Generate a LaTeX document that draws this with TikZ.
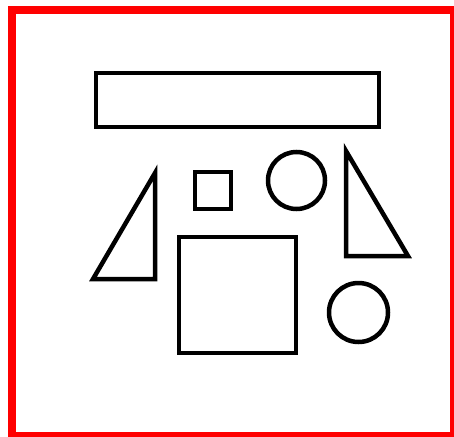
\documentclass[tikz,border=0pt]{standalone}
\begin{document}
\begin{tikzpicture}[x=1pt,y=-1pt,
  figline/.style={draw=black,line width=4.5pt,line join=miter},
  redframe/.style={draw=red,line width=8pt}]
\useasboundingbox (0,0) rectangle (454,436);
\fill[white] (0,0) rectangle (454,436);
\begin{scope}
\clip (0,0) rectangle (454,436);
\draw[redframe] (12,10) rectangle (454,436);
\end{scope}
% long bar
\draw[figline] (96,73) rectangle (379,127);
% left triangle
\draw[figline] (155,173) -- (93,279) -- (155,279) -- cycle;
% small square
\draw[figline] (195,172) rectangle (231,209);
% top circle
\draw[figline] (296.5,180.5) circle (28.5);
% right triangle
\draw[figline] (346,151) -- (346,256) -- (408,256) -- cycle;
% big square
\draw[figline] (179,237) rectangle (296,353);
% bottom circle
\draw[figline] (358.5,312.5) circle (29.5);
\end{tikzpicture}
\end{document}
